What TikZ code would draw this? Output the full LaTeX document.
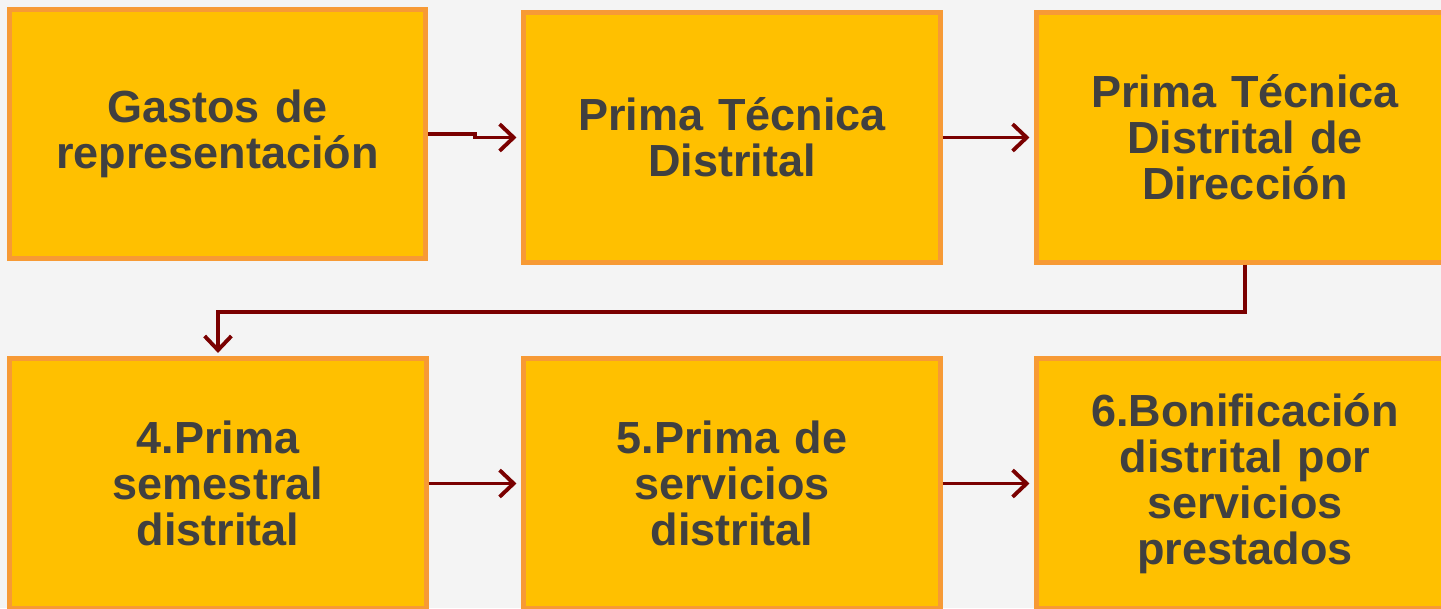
\documentclass[tikz,border=0pt]{standalone}
\usepackage{fontspec}
\setmainfont{Liberation Sans}
\usepackage{xcolor}
\usetikzlibrary{arrows.meta}

\definecolor{boxfill}{HTML}{FFC000}
\definecolor{boxline}{HTML}{F79A35}
\definecolor{boxtext}{HTML}{404040}
\definecolor{flecha}{HTML}{7A0000}
\definecolor{fondo}{HTML}{F4F4F4}

\tikzset{
  caja/.style={draw=boxline, fill=boxfill, line width=1.42pt,
    minimum width=4.16cm, minimum height=2.49cm, text width=3.9cm,
    inner sep=0pt, align=center, text=boxtext,
    font=\fontsize{12.8}{13.1}\selectfont\bfseries},
  flechita/.style={draw=flecha, line width=1.1pt,
    -{Straight Barb[length=4pt, width=7.6pt]}}
}

\begin{document}
\begin{tikzpicture}[x=0.01cm, y=-0.01cm]

    % Background and frame
    \useasboundingbox (0, 0) rectangle (1441, 608);
    \fill[fondo] (0, 0) rectangle (1441, 608);
    \clip (0, 0) rectangle (1441, 608);

    % Top row
    \node[caja] (gastos) at (217.5, 134) {Gastos de\\representación};
    \node[caja] (tecnica) at (732, 137.5) {Prima Técnica\\Distrital};
    \node[caja] (direccion) at (1245, 137.5) {Prima Técnica\\Distrital de\\Dirección};

    % Bottom row
    \node[caja] (semestral) at (218, 483.5) {4.Prima\\semestral\\distrital};
    \node[caja] (servicios) at (732, 483.5) {5.Prima de\\servicios\\distrital};
    \node[caja] (bonificacion) at (1245, 483.5) {6.Bonificación\\distrital por\\servicios\\prestados};

    % Arrows
    \draw[flechita, shorten >=1.4pt] (gastos.east) -- ++(47, 0) |- (tecnica.west);
    \draw[flechita, shorten >=1.4pt] (tecnica.east) -- (direccion.west);
    \draw[flechita, shorten >=1pt] (direccion.south) -- ++(0, 47) -| (semestral.north);
    \draw[flechita, shorten >=1.4pt] (semestral.east) -- (servicios.west);
    \draw[flechita, shorten >=1.4pt] (servicios.east) -- (bonificacion.west);

\end{tikzpicture}
\end{document}
